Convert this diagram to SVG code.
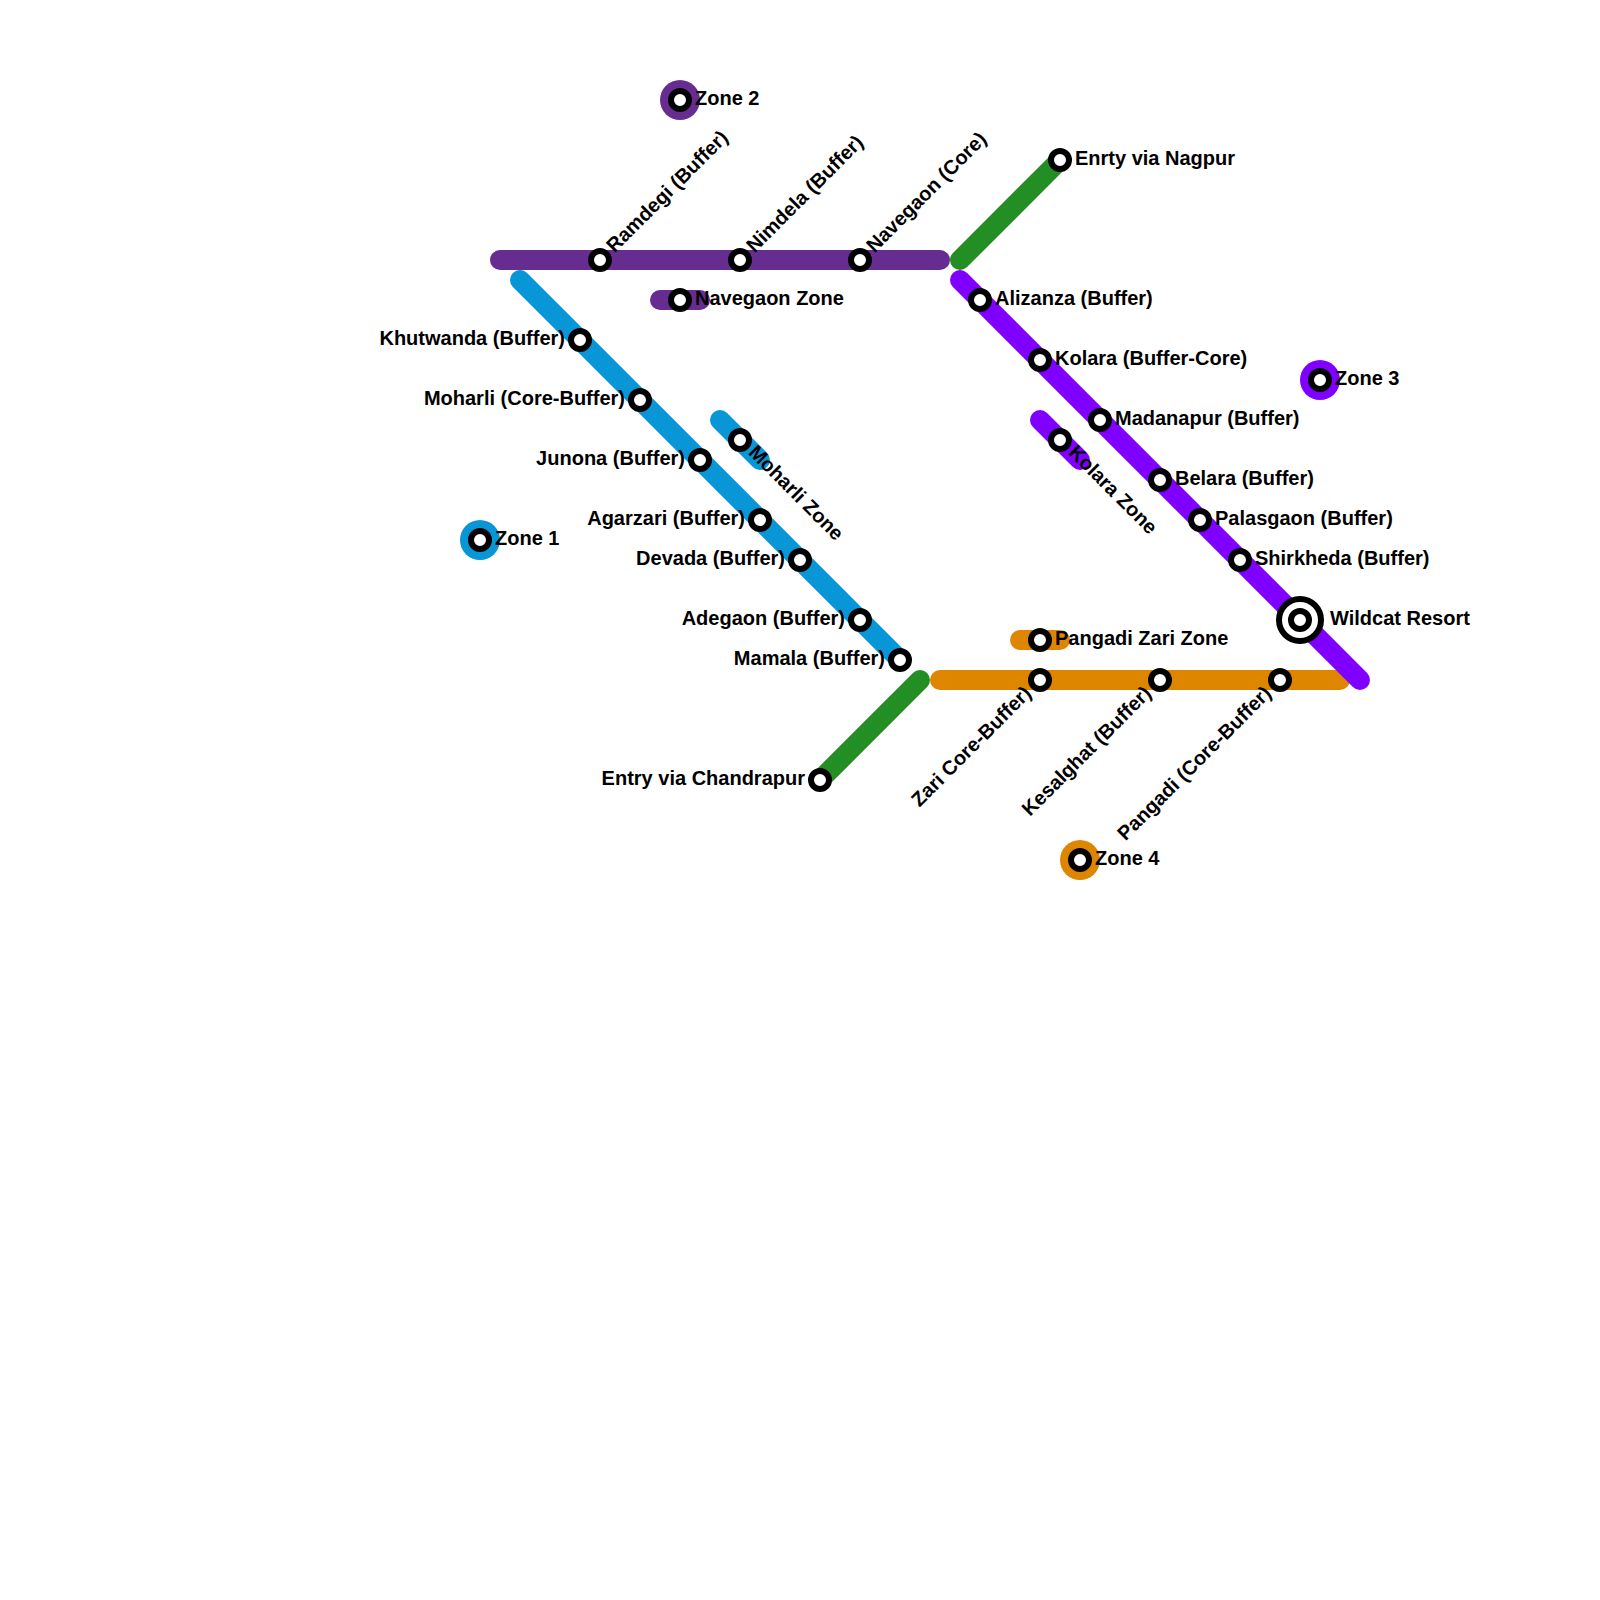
<svg xmlns="http://www.w3.org/2000/svg" width="1600" height="1600" viewBox="0 0 1600 1600">
<style>
.l{fill:none;stroke-width:20;stroke-linecap:round}
.b{stroke:#0896d7}.p{stroke:#662c90}.v{stroke:#7f00ff}.o{stroke:#df8600}.g{stroke:#238e23}
.s{fill:#fff;stroke:#000;stroke-width:6}
text{font-family:"Liberation Sans",Arial,sans-serif;font-weight:700;font-size:20px;fill:#000}
.e{text-anchor:end}
</style>
<rect width="1600" height="1600" fill="#fff"/>
<g id="connectors">
<path class="l b" d="M520 280L900 660"/>
<path class="l b" d="M720 420L760 460"/>
<path class="l p" d="M500 260H940"/>
<path class="l p" d="M660 300H700"/>
<path class="l o" d="M940 680H1340"/>
<path class="l o" d="M1020 640H1060"/>
<path class="l v" d="M960 280L1360 680"/>
<path class="l v" d="M1040 420L1080 460"/>
<path class="l g" d="M960 260L1060 160"/>
<path class="l g" d="M920 680L820 780"/>
</g>
<g id="zone1"><circle cx="480" cy="540" r="20" fill="#0896d7"/><circle class="s" cx="480" cy="540" r="9"/><text x="495" y="545">Zone 1</text></g>
<g id="zone2"><circle cx="680" cy="100" r="20" fill="#662c90"/><circle class="s" cx="680" cy="100" r="9"/><text x="695" y="105">Zone 2</text></g>
<g id="zone3"><circle cx="1320" cy="380" r="20" fill="#7f00ff"/><circle class="s" cx="1320" cy="380" r="9"/><text x="1335" y="385">Zone 3</text></g>
<g id="zone4"><circle cx="1080" cy="860" r="20" fill="#df8600"/><circle class="s" cx="1080" cy="860" r="9"/><text x="1095" y="865">Zone 4</text></g>
<g id="khutwanda"><circle class="s" cx="580" cy="340" r="9"/><text class="e" x="565" y="345">Khutwanda (Buffer)</text></g>
<g id="moharli"><circle class="s" cx="640" cy="400" r="9"/><text class="e" x="625" y="405">Moharli (Core-Buffer)</text></g>
<g id="junona"><circle class="s" cx="700" cy="460" r="9"/><text class="e" x="685" y="465">Junona (Buffer)</text></g>
<g id="agarzari"><circle class="s" cx="760" cy="520" r="9"/><text class="e" x="745" y="525">Agarzari (Buffer)</text></g>
<g id="devada"><circle class="s" cx="800" cy="560" r="9"/><text class="e" x="785" y="565">Devada (Buffer)</text></g>
<g id="adegaon"><circle class="s" cx="860" cy="620" r="9"/><text class="e" x="845" y="625">Adegaon (Buffer)</text></g>
<g id="mamala"><circle class="s" cx="900" cy="660" r="9"/><text class="e" x="885" y="665">Mamala (Buffer)</text></g>
<g id="moharli-zone"><circle class="s" cx="740" cy="440" r="9"/><text transform="translate(751 450) rotate(45)" x="0" y="5">Moharli Zone</text></g>
<g id="ramdegi"><circle class="s" cx="600" cy="260" r="9"/><text transform="translate(611 250) rotate(-45)" x="0" y="5">Ramdegi (Buffer)</text></g>
<g id="nimdela"><circle class="s" cx="740" cy="260" r="9"/><text transform="translate(751 250) rotate(-45)" x="0" y="5">Nimdela (Buffer)</text></g>
<g id="navegaon-core"><circle class="s" cx="860" cy="260" r="9"/><text transform="translate(871 250) rotate(-45)" x="0" y="5">Navegaon (Core)</text></g>
<g id="navegaon-zone"><circle class="s" cx="680" cy="300" r="9"/><text x="695" y="305">Navegaon Zone</text></g>
<g id="nagpur"><circle class="s" cx="1060" cy="160" r="9"/><text x="1075" y="165">Enrty via Nagpur</text></g>
<g id="alizanza"><circle class="s" cx="980" cy="300" r="9"/><text x="995" y="305">Alizanza (Buffer)</text></g>
<g id="kolara"><circle class="s" cx="1040" cy="360" r="9"/><text x="1055" y="365">Kolara (Buffer-Core)</text></g>
<g id="madanapur"><circle class="s" cx="1100" cy="420" r="9"/><text x="1115" y="425">Madanapur (Buffer)</text></g>
<g id="belara"><circle class="s" cx="1160" cy="480" r="9"/><text x="1175" y="485">Belara (Buffer)</text></g>
<g id="palasgaon"><circle class="s" cx="1200" cy="520" r="9"/><text x="1215" y="525">Palasgaon (Buffer)</text></g>
<g id="shirkheda"><circle class="s" cx="1240" cy="560" r="9"/><text x="1255" y="565">Shirkheda (Buffer)</text></g>
<g id="wildcat"><circle class="s" cx="1300" cy="620" r="21"/><circle class="s" cx="1300" cy="620" r="9"/><text x="1330" y="625">Wildcat Resort</text></g>
<g id="kolara-zone"><circle class="s" cx="1060" cy="440" r="9"/><text transform="translate(1071 450) rotate(45)" x="0" y="5">Kolara Zone</text></g>
<g id="pangadi-zari"><circle class="s" cx="1040" cy="640" r="9"/><text x="1055" y="645">Pangadi Zari Zone</text></g>
<g id="zari"><circle class="s" cx="1040" cy="680" r="9"/><text class="e" transform="translate(1029 691) rotate(-45)" x="0" y="5">Zari Core-Buffer)</text></g>
<g id="kesalghat"><circle class="s" cx="1160" cy="680" r="9"/><text class="e" transform="translate(1149 691) rotate(-45)" x="0" y="5">Kesalghat (Buffer)</text></g>
<g id="pangadi"><circle class="s" cx="1280" cy="680" r="9"/><text class="e" transform="translate(1269 691) rotate(-45)" x="0" y="5">Pangadi (Core-Buffer)</text></g>
<g id="chandrapur"><circle class="s" cx="820" cy="780" r="9"/><text class="e" x="805" y="785">Entry via Chandrapur</text></g>
</svg>
